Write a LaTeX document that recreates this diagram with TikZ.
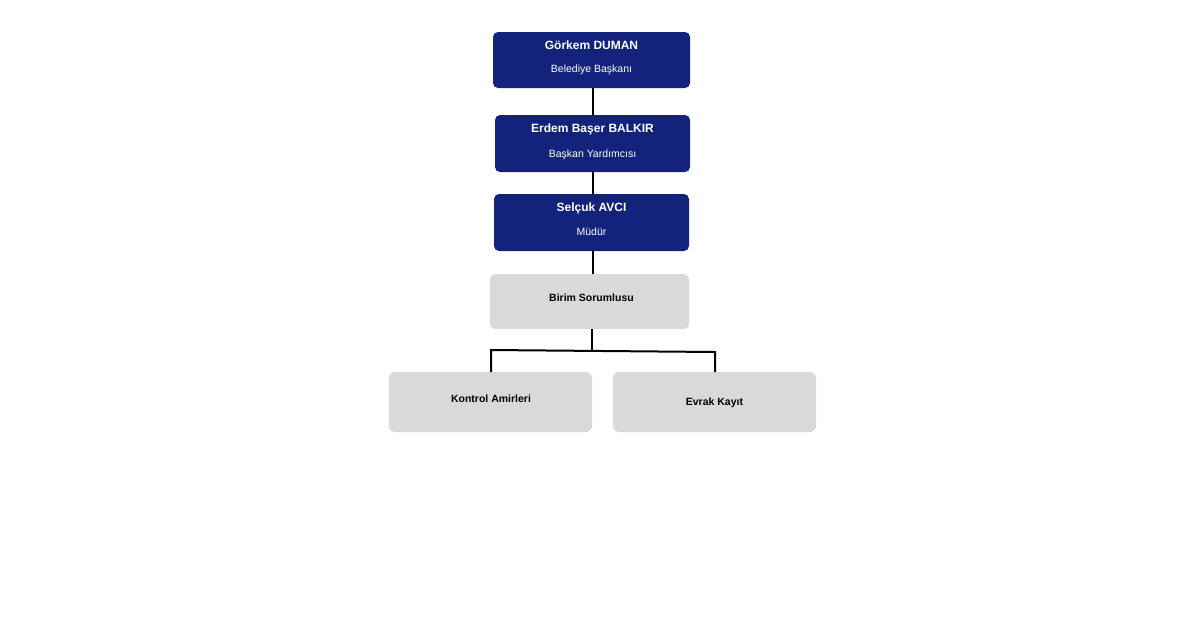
\documentclass[tikz,border=0pt]{standalone}
\usepackage{fontspec}
\setmainfont{Liberation Sans}
\definecolor{navy}{HTML}{13227A}
\definecolor{lgray}{HTML}{D9D9D9}
\begin{document}
\begin{tikzpicture}[x=1pt,y=-1pt,
  nb/.style={fill=navy,rounded corners=5pt,text=white,align=center,inner sep=0pt},
  gb/.style={fill=lgray,rounded corners=6pt,text=black,align=center,inner sep=0pt,font=\bfseries\fontsize{11}{13}\selectfont},
  ln/.style={line width=2pt,black}]
\useasboundingbox (0,0) rectangle (1200,641);
\node[nb,minimum width=197pt,minimum height=56pt] (a) at (591.5,60) {};
\node[text=white,font=\bfseries\fontsize{12}{14}\selectfont] at (591.5,45) {Görkem DUMAN};
\node[text=white,font=\fontsize{10.5}{12}\selectfont] at (591.5,70) {Belediye Başkanı};
\node[nb,minimum width=195pt,minimum height=57pt] (b) at (592.5,143.5) {};
\node[text=white,font=\bfseries\fontsize{12}{14}\selectfont] at (592.5,129) {Erdem Başer BALKIR};
\node[text=white,font=\fontsize{10.5}{12}\selectfont] at (592.5,155) {Başkan Yardımcısı};
\node[nb,minimum width=195pt,minimum height=57pt] (c) at (591.5,222.5) {};
\node[text=white,font=\bfseries\fontsize{12}{14}\selectfont] at (591.5,208) {Selçuk AVCI};
\node[text=white,font=\fontsize{10.5}{12}\selectfont] at (591.5,232) {Müdür};
\node[gb,minimum width=199pt,minimum height=55pt] (d) at (589.5,301.5) {};
\node[font=\bfseries\fontsize{10.5}{12}\selectfont] at (591.5,298) {Birim Sorumlusu};
\node[gb,minimum width=203pt,minimum height=60pt] (e) at (490.5,402) {};
\node[font=\bfseries\fontsize{10.5}{12}\selectfont] at (491,399) {Kontrol Amirleri};
\node[gb,minimum width=203pt,minimum height=60pt] (f) at (714.5,402) {};
\node[font=\bfseries\fontsize{10.5}{12}\selectfont] at (714.5,403) {Evrak Kayıt};
\draw[ln] (593,88) -- (593,115);
\draw[ln] (593,172) -- (593,194);
\draw[ln] (593,251) -- (593,274);
\coordinate (j) at (592,350);
\draw[ln] (592,329) -- (j);
\draw[ln] (491,372) -- (491,350) -- (715,352) -- (715,372);
\end{tikzpicture}
\end{document}
